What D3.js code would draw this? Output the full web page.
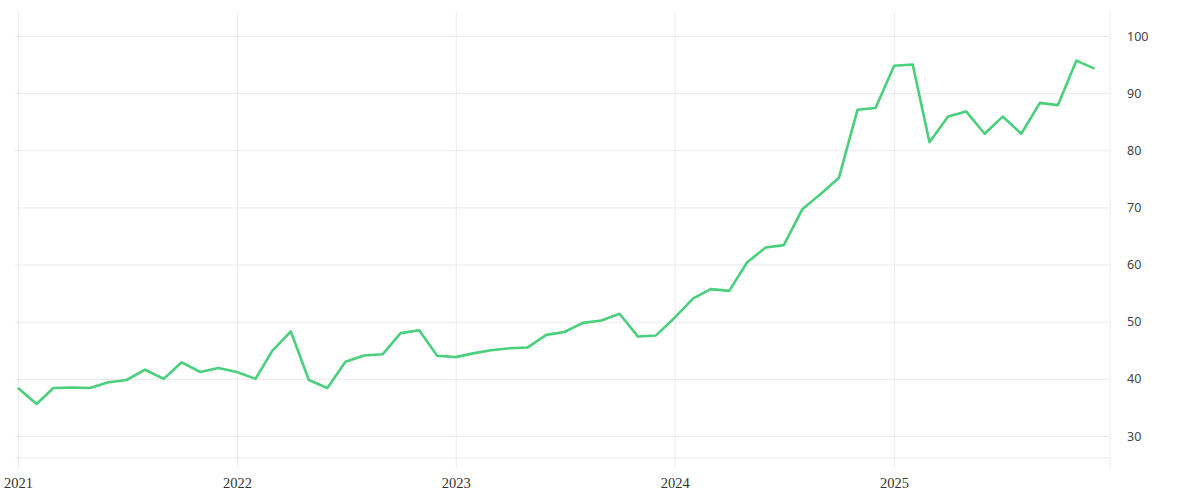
<!DOCTYPE html>
<html>
<head>
<meta charset="utf-8">
<script src="https://cdn.jsdelivr.net/npm/d3@7"></script>
<style>
  html, body { margin: 0; padding: 0; background: #fff; }
  svg { display: block; }
</style>
</head>
<body>
<div id="chart"></div>
<script>
// monthly values, Jan 2021 .. Dec 2025
const months = [
  "2021-01","2021-02","2021-03","2021-04","2021-05","2021-06","2021-07","2021-08","2021-09","2021-10","2021-11","2021-12",
  "2022-01","2022-02","2022-03","2022-04","2022-05","2022-06","2022-07","2022-08","2022-09","2022-10","2022-11","2022-12",
  "2023-01","2023-02","2023-03","2023-04","2023-05","2023-06","2023-07","2023-08","2023-09","2023-10","2023-11","2023-12",
  "2024-01","2024-02","2024-03","2024-04","2024-05","2024-06","2024-07","2024-08","2024-09","2024-10","2024-11","2024-12",
  "2025-01","2025-02","2025-03","2025-04","2025-05","2025-06","2025-07","2025-08","2025-09","2025-10","2025-11","2025-12"
];
const values = [
  38.4, 35.6, 38.4, 38.5, 38.4, 39.4, 39.8, 41.6, 40.0, 42.9, 41.2, 41.9,
  41.2, 40.0, 44.9, 48.3, 39.8, 38.4, 43.0, 44.1, 44.3, 48.0, 48.5, 44.05,
  43.8, 44.5, 45.0, 45.35, 45.5, 47.7, 48.2, 49.8, 50.2, 51.4, 47.4, 47.6,
  50.7, 54.1, 55.7, 55.4, 60.4, 63.0, 63.4, 69.7, 72.4, 75.2, 87.1, 87.4,
  94.8, 95.0, 81.4, 85.9, 86.8, 82.9, 85.9, 82.9, 88.3, 87.9, 95.7, 94.3
];
const yTicks = [30, 40, 50, 60, 70, 80, 90, 100];
const xTickYears = ["2021", "2022", "2023", "2024", "2025"];

const width = 1200;
const height = 500;
const plotLeft = 15;
const plotRight = 1110;
const plotTop = 12;
const plotBottom = 458;
const gridColor = "#ebebeb";
const lineColor = "#4ad07c";

const parseMonth = d3.utcParse("%Y-%m");
const parseYear = d3.utcParse("%Y");
const data = months.map((m, i) => ({ date: parseMonth(m), value: values[i] }));

const xScale = d3.scaleUtc(
  [parseYear("2021"), parseYear("2026")],
  [18, 1113]
);
const yScale = d3.scaleLinear([26.15, 104.2], [plotBottom, plotTop]);

const svg = d3.select("#chart").append("svg")
  .attr("width", width)
  .attr("height", height);

// x axis + vertical grid
const xAxis = d3.axisBottom(xScale)
  .tickValues(xTickYears.map(parseYear))
  .tickFormat(d3.utcFormat("%Y"))
  .tickSize(10)
  .tickPadding(10);

const gx = svg.append("g")
  .attr("transform", `translate(0,${plotBottom})`)
  .call(xAxis);
gx.select(".domain").remove();
gx.selectAll(".tick line")
  .attr("y1", plotTop - plotBottom)
  .attr("stroke", gridColor);
gx.selectAll(".tick text")
  .attr("font-family", "'Liberation Serif', serif")
  .attr("font-size", 14.5)
  .attr("fill", "#333");

// y axis on the right + horizontal grid
const yAxis = d3.axisRight(yScale)
  .tickValues(yTicks)
  .tickSize(0)
  .tickPadding(17);

const gy = svg.append("g")
  .attr("transform", `translate(${plotRight},0)`)
  .call(yAxis);
gy.select(".domain").remove();
gy.selectAll(".tick line")
  .attr("x1", plotLeft - plotRight)
  .attr("x2", 0)
  .attr("stroke", gridColor);
gy.selectAll(".tick text")
  .attr("font-family", "'Noto Sans', sans-serif")
  .attr("font-size", 12.5)
  .attr("fill", "#444");

// bottom and right frame lines
svg.append("line")
  .attr("x1", plotLeft).attr("x2", plotRight)
  .attr("y1", plotBottom).attr("y2", plotBottom)
  .attr("stroke", gridColor);
svg.append("line")
  .attr("x1", plotRight).attr("x2", plotRight)
  .attr("y1", plotTop).attr("y2", plotBottom + 10)
  .attr("stroke", gridColor);

// the series
const line = d3.line()
  .x(d => xScale(d.date))
  .y(d => yScale(d.value));

svg.append("path")
  .datum(data)
  .attr("fill", "none")
  .attr("stroke", lineColor)
  .attr("stroke-width", 2.6)
  .attr("stroke-linejoin", "round")
  .attr("d", line);
</script>
</body>
</html>
